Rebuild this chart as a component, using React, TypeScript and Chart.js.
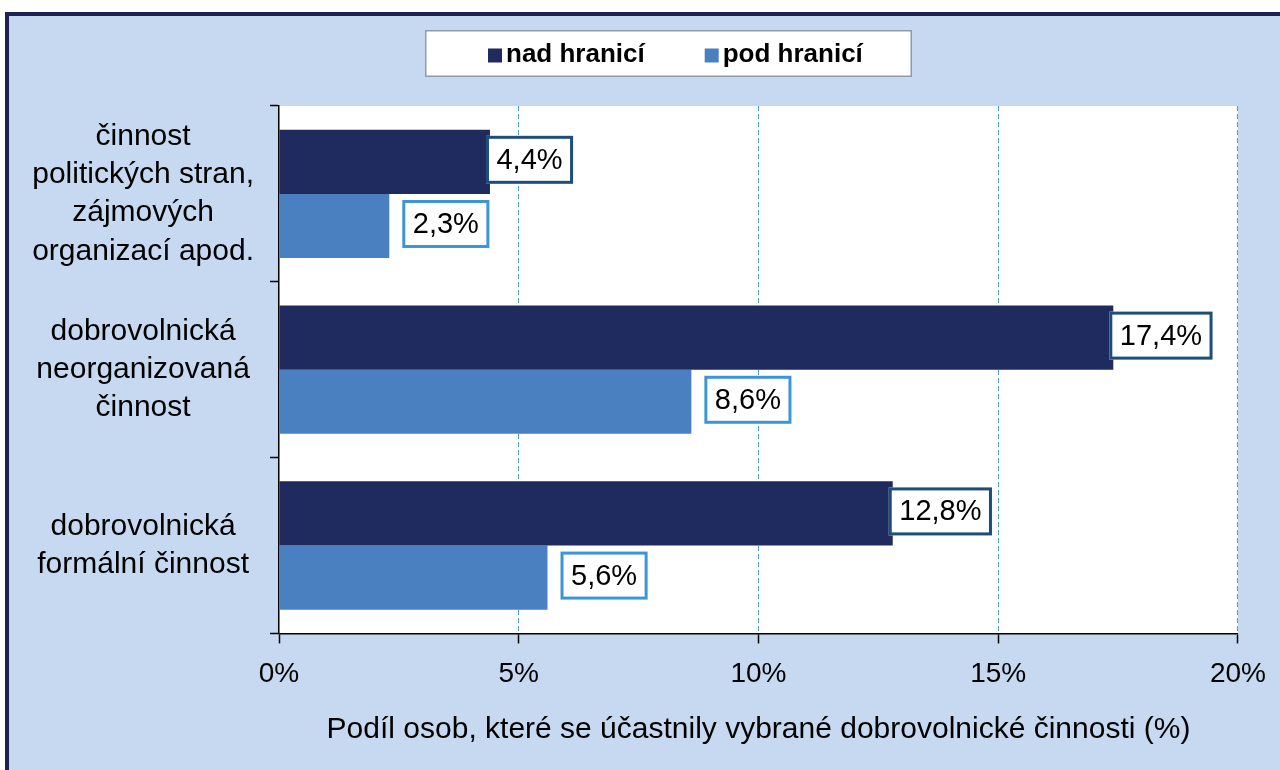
import React, { useEffect, useRef } from "react";
import { Chart, registerables } from "chart.js";

Chart.register(...registerables);

// ---- data ----
const categories: string[][] = [
  ["činnost", "politických stran,", "zájmových", "organizací apod."],
  ["dobrovolnická", "neorganizovaná", "činnost"],
  ["dobrovolnická", "formální činnost"],
];
const seriesNames = ["nad hranicí", "pod hranicí"];
const nadHranici = [4.4, 17.4, 12.8];
const podHranici = [2.3, 8.6, 5.6];
const xMin = 0;
const xMax = 20;
const xStep = 5;
const axisTitle = "Podíl osob, které se účastnily vybrané dobrovolnické činnosti (%)";

// ---- styles ----
const FONT = '"Liberation Sans", Arial, sans-serif';
const NAVY = "#1f2a5e";
const BLUE = "#4a7fc0";
const BG = "#c6d9f0";
const FRAME = "#1c2354";
const labelStyles = [
  { border: "#1d4e79", dx: -4, dy: -2 },
  { border: "#3d96d4", dx: 13, dy: -2 },
];

const fmt = (v: number) => v.toFixed(1).replace(".", ",") + "%";

const plotBg = {
  id: "plotBg",
  beforeDraw(chart: any) {
    const { ctx, chartArea } = chart;
    ctx.save();
    ctx.fillStyle = "#ffffff";
    ctx.fillRect(chartArea.left, chartArea.top, chartArea.right - chartArea.left, chartArea.bottom - chartArea.top);
    ctx.restore();
  },
};

const valueLabels = {
  id: "valueLabels",
  afterDatasetsDraw(chart: any) {
    const ctx = chart.ctx;
    ctx.save();
    ctx.font = `29px ${FONT}`;
    ctx.textAlign = "center";
    ctx.textBaseline = "middle";
    chart.data.datasets.forEach((ds: any, i: number) => {
      const meta = chart.getDatasetMeta(i);
      const st = labelStyles[i];
      meta.data.forEach((bar: any, j: number) => {
        const text = fmt(ds.data[j]);
        const w = ctx.measureText(text).width + 21;
        const h = 48;
        const x0 = bar.x + st.dx;
        const y0 = bar.y - h / 2 + st.dy;
        ctx.fillStyle = "#ffffff";
        ctx.fillRect(x0, y0, w, h);
        ctx.strokeStyle = st.border;
        ctx.lineWidth = 3;
        ctx.strokeRect(x0 + 1.5, y0 + 1.5, w - 3, h - 3);
        ctx.fillStyle = "#000000";
        ctx.fillText(text, x0 + w / 2, y0 + h / 2 + 1);
      });
    });
    ctx.restore();
  },
};

const boxLegend = {
  id: "boxLegend",
  afterDraw(chart: any) {
    const ctx = chart.ctx;
    ctx.save();
    const bx = 425, by = 30, bw = 487, bh = 47;
    ctx.fillStyle = "#ffffff";
    ctx.fillRect(bx, by, bw, bh);
    ctx.strokeStyle = "#8e9bab";
    ctx.lineWidth = 1.5;
    ctx.strokeRect(bx + 0.75, by + 0.75, bw - 1.5, bh - 1.5);
    ctx.font = `bold 26px ${FONT}`;
    ctx.textBaseline = "middle";
    ctx.textAlign = "left";
    let x = 488;
    const cy = by + bh / 2 + 1;
    chart.data.datasets.forEach((ds: any) => {
      ctx.fillStyle = ds.backgroundColor;
      ctx.fillRect(x, cy - 6, 14, 14);
      ctx.fillStyle = "#000000";
      ctx.fillText(ds.label, x + 18, cy);
      x += 18 + ctx.measureText(ds.label).width + 60;
    });
    ctx.restore();
  },
};

export default function App() {
  const ref = useRef<HTMLCanvasElement | null>(null);

  useEffect(() => {
    document.body.style.margin = "0";
    const canvas = ref.current;
    if (!canvas) return;
    Chart.defaults.font.family = FONT;
    Chart.defaults.color = "#000000";
    const chart = new Chart(canvas, {
      type: "bar",
      data: {
        labels: categories,
        datasets: [
          { label: seriesNames[0], data: nadHranici, backgroundColor: NAVY, borderWidth: 0 },
          { label: seriesNames[1], data: podHranici, backgroundColor: BLUE, borderWidth: 0 },
        ],
      },
      options: {
        indexAxis: "y",
        responsive: false,
        animation: false,
        devicePixelRatio: 1,
        layout: { padding: { left: 28, right: 42, top: 106, bottom: 18 } },
        datasets: { bar: { categoryPercentage: 0.73, barPercentage: 1.0 } },
        plugins: {
          legend: { display: false },
          tooltip: { enabled: false },
          title: { display: false },
        },
        scales: {
          x: {
            type: "linear",
            min: xMin,
            max: xMax,
            ticks: {
              stepSize: xStep,
              callback: (v: any) => v + "%",
              font: { size: 28 },
              color: "#000000",
              padding: 14,
            },
            grid: {
              color: (c: any) => (c.tick && c.tick.value === 0 ? "rgba(0,0,0,0)" : "#4a9bc9"),
              lineWidth: 1,
              tickColor: "#000000",
              tickLength: 10,
              tickWidth: 1.5,
              drawTicks: true,
            },
            border: { display: true, color: "#000000", width: 1.5, dash: [5, 3] },
            title: {
              display: true,
              text: axisTitle,
              font: { size: 30 },
              color: "#000000",
              padding: { top: 7, bottom: 4 },
            },
          },
          y: {
            type: "category",
            ticks: {
              font: { size: 30, lineHeight: 1.28 },
              color: "#000000",
              crossAlign: "center",
              padding: 16,
            },
            grid: {
              drawOnChartArea: false,
              drawTicks: true,
              tickLength: 9,
              tickColor: "#000000",
              tickWidth: 1.5,
              offset: true,
            },
            border: { display: true, color: "#000000", width: 1.5 },
            afterFit: (scale: any) => {
              scale.width = 251;
            },
          },
        },
      },
      plugins: [plotBg, valueLabels, boxLegend],
    } as any);
    return () => chart.destroy();
  }, []);

  return (
    <div style={{ position: "relative", width: 1280, height: 770, background: "#ffffff", overflow: "hidden" }}>
      <div
        style={{
          position: "absolute",
          left: 5,
          top: 12,
          right: 0,
          bottom: 0,
          background: BG,
          borderTop: `4px solid ${FRAME}`,
          borderLeft: `4px solid ${FRAME}`,
        }}
      />
      <canvas ref={ref} width={1280} height={770} style={{ position: "absolute", left: 0, top: 0, width: 1280, height: 770 }} />
    </div>
  );
}
